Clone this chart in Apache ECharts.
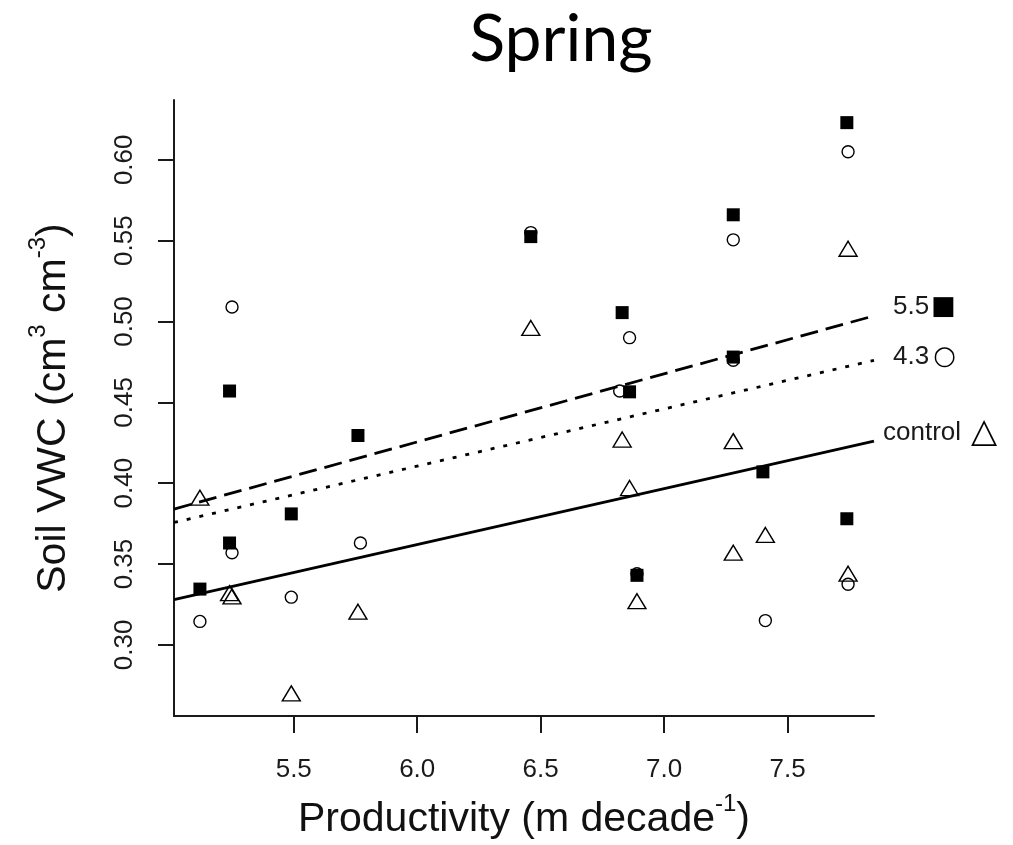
<!DOCTYPE html>
<html>
<head>
<meta charset="utf-8">
<script src="https://cdn.jsdelivr.net/npm/echarts@6/dist/echarts.min.js"></script>
<style>
  html, body { margin: 0; padding: 0; background: #fff; }
  #main { width: 1013px; height: 845px; }
</style>
</head>
<body>
<div id="main"></div>
<script>
// values
var treat55 = [
  [5.12, 0.3345], [5.24, 0.457], [5.24, 0.363], [5.49, 0.381], [5.76, 0.4295],
  [6.46, 0.5525], [6.83, 0.5055], [6.86, 0.4565], [6.89, 0.343], [7.28, 0.566],
  [7.28, 0.478], [7.40, 0.407], [7.74, 0.623], [7.74, 0.378]
];
var treat43 = [
  [5.12, 0.3145], [5.25, 0.509], [5.25, 0.357], [5.49, 0.3295], [5.77, 0.363],
  [6.46, 0.555], [6.82, 0.457], [6.86, 0.490], [6.89, 0.344], [7.28, 0.5505],
  [7.28, 0.476], [7.41, 0.315], [7.745, 0.605], [7.745, 0.3375]
];
var control = [
  [5.12, 0.391], [5.24, 0.332], [5.25, 0.330], [5.49, 0.270], [5.76, 0.3205],
  [6.46, 0.496], [6.83, 0.427], [6.86, 0.397], [6.89, 0.327], [7.28, 0.426],
  [7.28, 0.357], [7.41, 0.368], [7.745, 0.545], [7.745, 0.344]
];
// fitted lines, ends at the plot edges
var fit55 = [[5.015, 0.384], [7.85, 0.5035]];
var fit43 = [[5.015, 0.3757], [7.85, 0.476]];
var fitControl = [[5.015, 0.328], [7.85, 0.426]];

var xTicks = [5.5, 6.0, 6.5, 7.0, 7.5];
var yTicks = [0.30, 0.35, 0.40, 0.45, 0.50, 0.55, 0.60];

var axisColor = '#1a1a1a';
var textColor = '#1a1a1a';
var font = 'Liberation Sans, Arial, sans-serif';

var chart = echarts.init(document.getElementById('main'));

function fitLine(data, dash, label, mark, markSize, dist, dy, gap) {
  return {
    type: 'line',
    data: data,
    symbol: 'none',
    silent: true,
    lineStyle: { color: '#000', width: 2.8, type: dash },
    endLabel: {
      show: true,
      distance: dist,
      offset: [0, dy],
      formatter: label + '{m|' + mark + '}',
      color: textColor,
      fontFamily: font,
      fontSize: 26,
      rich: { m: { fontFamily: 'DejaVu Sans', fontSize: markSize, color: '#000', padding: [0, 0, 0, gap] } }
    },
    z: 1
  };
}

var option = {
  animation: false,
  graphic: [{
    type: 'text',
    x: 561, y: 40,
    style: {
      text: 'Spring',
      font: '66px Lato, sans-serif',
      fill: '#000',
      textAlign: 'center',
      textVerticalAlign: 'middle'
    }
  }],
  grid: { left: 174, right: 139, top: 100, bottom: 129, outerBoundsMode: 'none' },
  xAxis: {
    type: 'value',
    min: 5.015,
    max: 7.85,
    splitLine: { show: false },
    axisLine: { lineStyle: { color: axisColor, width: 2 } },
    axisTick: { customValues: xTicks, length: 17, lineStyle: { color: axisColor, width: 2 } },
    axisLabel: {
      customValues: xTicks,
      margin: 41,
      color: textColor,
      fontFamily: font,
      fontSize: 26,
      formatter: function (v) { return v.toFixed(1); }
    },
    name: 'Productivity (m decade{sup|-1})',
    nameLocation: 'middle',
    nameGap: 76,
    nameTextStyle: {
      color: '#111',
      fontFamily: font,
      fontSize: 41,
      lineHeight: 56,
      rich: { sup: { fontFamily: font, fontSize: 24, lineHeight: 22, verticalAlign: 'top', color: '#111' } }
    }
  },
  yAxis: {
    type: 'value',
    min: 0.256,
    max: 0.637,
    splitLine: { show: false },
    axisLine: { lineStyle: { color: axisColor, width: 2 } },
    axisTick: { customValues: yTicks, length: 16, lineStyle: { color: axisColor, width: 2 } },
    axisLabel: {
      customValues: yTicks,
      rotate: 90,
      margin: 36,
      color: textColor,
      fontFamily: font,
      fontSize: 26,
      formatter: function (v) { return v.toFixed(2); }
    },
    name: 'Soil VWC (cm{sup|3} cm{sup|-3})',
    nameLocation: 'middle',
    nameRotate: 90,
    nameGap: 92,
    nameTextStyle: {
      color: '#111',
      fontFamily: font,
      fontSize: 41,
      lineHeight: 56,
      rich: { sup: { fontFamily: font, fontSize: 24, lineHeight: 22, verticalAlign: 'top', color: '#111' } }
    }
  },
  series: [
    fitLine(fit55, [18, 8], '5.5', '■', 26, 19, -9, 2),
    fitLine(fit43, [4, 9], '4.3', '○', 26, 19, -3, 4),
    fitLine(fitControl, 'solid', 'control', '△', 34, 9, -8, 10),
    {
      type: 'scatter',
      data: treat43,
      symbol: 'circle',
      symbolSize: 12,
      itemStyle: { color: 'rgba(255,255,255,0)', borderColor: '#000', borderWidth: 1.4, opacity: 1 },
      z: 2
    },
    {
      type: 'scatter',
      data: control,
      symbol: 'triangle',
      symbolSize: [18, 15],
      itemStyle: { color: 'rgba(255,255,255,0)', borderColor: '#000', borderWidth: 1.4, opacity: 1 },
      z: 3
    },
    {
      type: 'scatter',
      data: treat55,
      symbol: 'rect',
      symbolSize: 13,
      itemStyle: { color: '#000', opacity: 1 },
      z: 4
    }
  ]
};

chart.setOption(option);
</script>
</body>
</html>
